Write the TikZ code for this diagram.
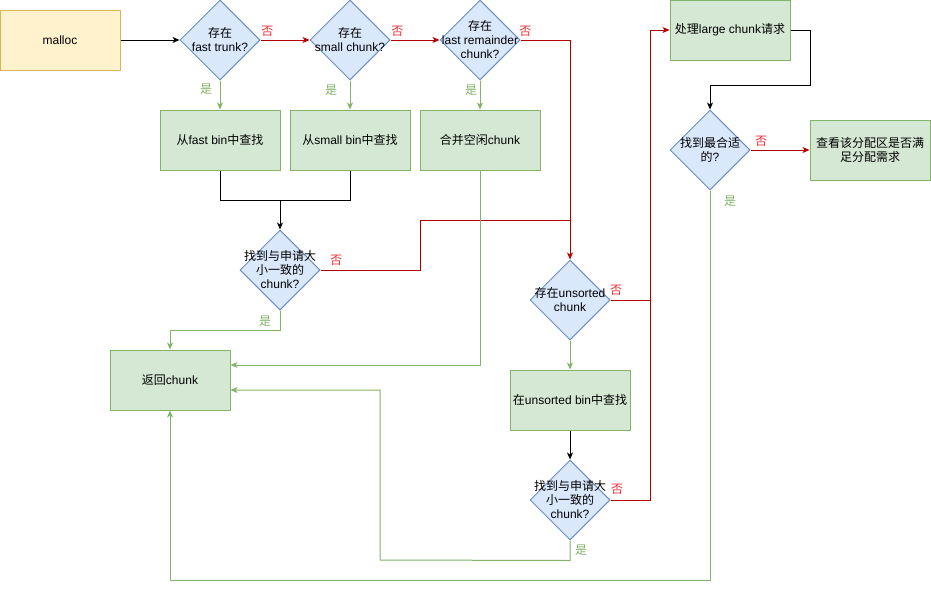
\documentclass[tikz,border=0pt]{standalone}
\usepackage{fontspec}
\setmainfont{Liberation Sans}
\newfontfamily\cjkfont{Noto Sans CJK SC}
\newcommand{\zh}[1]{{\cjkfont #1}}
\usetikzlibrary{shapes.geometric,arrows.meta,calc}
\definecolor{yfill}{HTML}{FFF2CC}
\definecolor{ystroke}{HTML}{D6B656}
\definecolor{bfill}{HTML}{DAE8FC}
\definecolor{bstroke}{HTML}{6C8EBF}
\definecolor{gfill}{HTML}{D5E8D4}
\definecolor{gstroke}{HTML}{82B366}
\definecolor{rline}{HTML}{B20000}
\definecolor{rtext}{HTML}{E8303A}
\definecolor{gtext}{HTML}{82B366}
\tikzset{
  yelbox/.style={rectangle, draw=ystroke, fill=yfill, line width=1pt, minimum width=120pt, minimum height=60pt, inner sep=0pt, align=center},
  grnbox/.style={rectangle, draw=gstroke, fill=gfill, line width=1pt, minimum width=120pt, minimum height=60pt, inner sep=0pt, align=center},
  dia/.style={diamond, draw=bstroke, fill=bfill, line width=1pt, minimum width=80pt, minimum height=80pt, inner sep=0pt, shape aspect=1},
  diatext/.style={align=center, inner sep=0pt, font=\fontsize{12}{14}\selectfont},
  tip/.style={-{Stealth[length=7pt,width=6pt,inset=2pt]}},
  blk/.style={draw=black, line width=1pt},
  redl/.style={draw=rline, line width=1pt},
  grnl/.style={draw=gstroke, line width=1pt},
  nolab/.style={text=rtext, inner sep=1pt, font=\fontsize{12}{14}\selectfont\cjkfont},
  yeslab/.style={text=gtext, inner sep=1pt, font=\fontsize{12}{14}\selectfont\cjkfont},
}
\begin{document}
\begin{tikzpicture}[x=1pt,y=-1pt,font=\fontsize{12}{14}\selectfont]
\useasboundingbox (0,0) rectangle (931,589);

% boxes
\node[yelbox] (malloc) at (60,40) {malloc};
\node[grnbox] (fb) at (220,140) {\zh{从}fast bin\zh{中查找}};
\node[grnbox] (sb) at (350,140) {\zh{从}small bin\zh{中查找}};
\node[grnbox] (mg) at (480,140) {\zh{合并空闲}chunk};
\node[grnbox] (ret) at (170,380) {\zh{返回}chunk};
\node[grnbox] (ub) at (570,400) {\zh{在}unsorted bin\zh{中查找}};
\node[grnbox] (large) at (730,30) {\zh{处理}large chunk\zh{请求}};
\node[grnbox] (check) at (870,150) {\zh{查看该分配区是否满}\\\zh{足分配需求}};

% diamonds
\node[dia] (d1) at (220,40) {};
\node[diatext] (d1t) at (d1) {\zh{存在}\\fast trunk?};
\node[dia] (d2) at (350,40) {};
\node[diatext] (d2t) at (d2) {\zh{存在}\\small chunk?};
\node[dia] (d3) at (480,40) {};
\node[diatext] (d3t) at (d3) {\zh{存在}\\last remainder\\chunk?};
\node[dia] (d4) at (280,270) {};
\node[diatext] (d4t) at (d4) {\zh{找到与申请大}\\\zh{小一致的}\\chunk?};
\node[dia] (d5) at (570,300) {};
\node[diatext] (d5t) at (d5) {\zh{存在}unsorted\\chunk};
\node[dia] (d6) at (570,500) {};
\node[diatext] (d6t) at (d6) {\zh{找到与申请大}\\\zh{小一致的}\\chunk?};
\node[dia] (d7) at (710,150) {};
\node[diatext] (d7t) at (d7) {\zh{找到最合适}\\\zh{的}?};

% coordinates
\coordinate (m) at (280,200);
\coordinate (j1) at (570,220);
\coordinate (j2) at (650,300);

% black connectors
\draw[blk,tip] (malloc.east) -- (d1.west);
\draw[blk] (fb.south) -- ++(0,30) -| (sb.south);
\draw[blk,tip] (m) -- (d4.north);
\draw[blk,tip] (ub.south) -- (d6.north);
\draw[blk,tip] (large.east) -- ++(20,0) -- ++(0,55) -| (d7.north);

% red connectors
\draw[redl,tip] (d1.east) -- (d2.west) node[nolab, pos=0.14, above=2pt] {否};
\draw[redl,tip] (d2.east) -- (d3.west) node[nolab, pos=0.14, above=2pt] {否};
\draw[redl,tip] (d3.east) -| (d5.north) node[nolab, pos=0.05, above=2pt] {否};
\draw[redl] (d4.east) -- ++(100,0) |- (j1);
\node[nolab] (n4) at (336,260) {否};
\draw[redl] (d5.east) -- (j2);
\node[nolab] (n5) at (616,290) {否};
\draw[redl,tip] (d6.east) -- ++(40,0) |- (large.west);
\node[nolab] (n6) at (617,489) {否};
\draw[redl,tip] (d7.east) -- (check.west);
\node[nolab] (n7) at (761,141) {否};

% green connectors
\draw[grnl,tip] (d1.south) -- (fb.north);
\node[yeslab] (y1) at (206,89) {是};
\draw[grnl,tip] (d2.south) -- (sb.north);
\node[yeslab] (y2) at (331,90) {是};
\draw[grnl,tip] (d3.south) -- (mg.north);
\node[yeslab] (y3) at (471,90) {是};
\draw[grnl,tip] (d4.south) -- ++(0,20) -| (ret.north);
\node[yeslab] (y4) at (265,321) {是};
\draw[grnl,tip] (mg.south) |- ($(ret.east)+(0,-15)$);
\draw[grnl,tip] (d5.south) -- (ub.north);
\draw[grnl,tip] (d6.south) -- ++(0,20) -- (380,560) |- ($(ret.east)+(0,10)$);
\node[yeslab] (y6) at (581,550) {是};
\draw[grnl,tip] (d7.south) -- (710,580) -| (ret.south);
\node[yeslab] (y7) at (730,201) {是};
\end{tikzpicture}
\end{document}
